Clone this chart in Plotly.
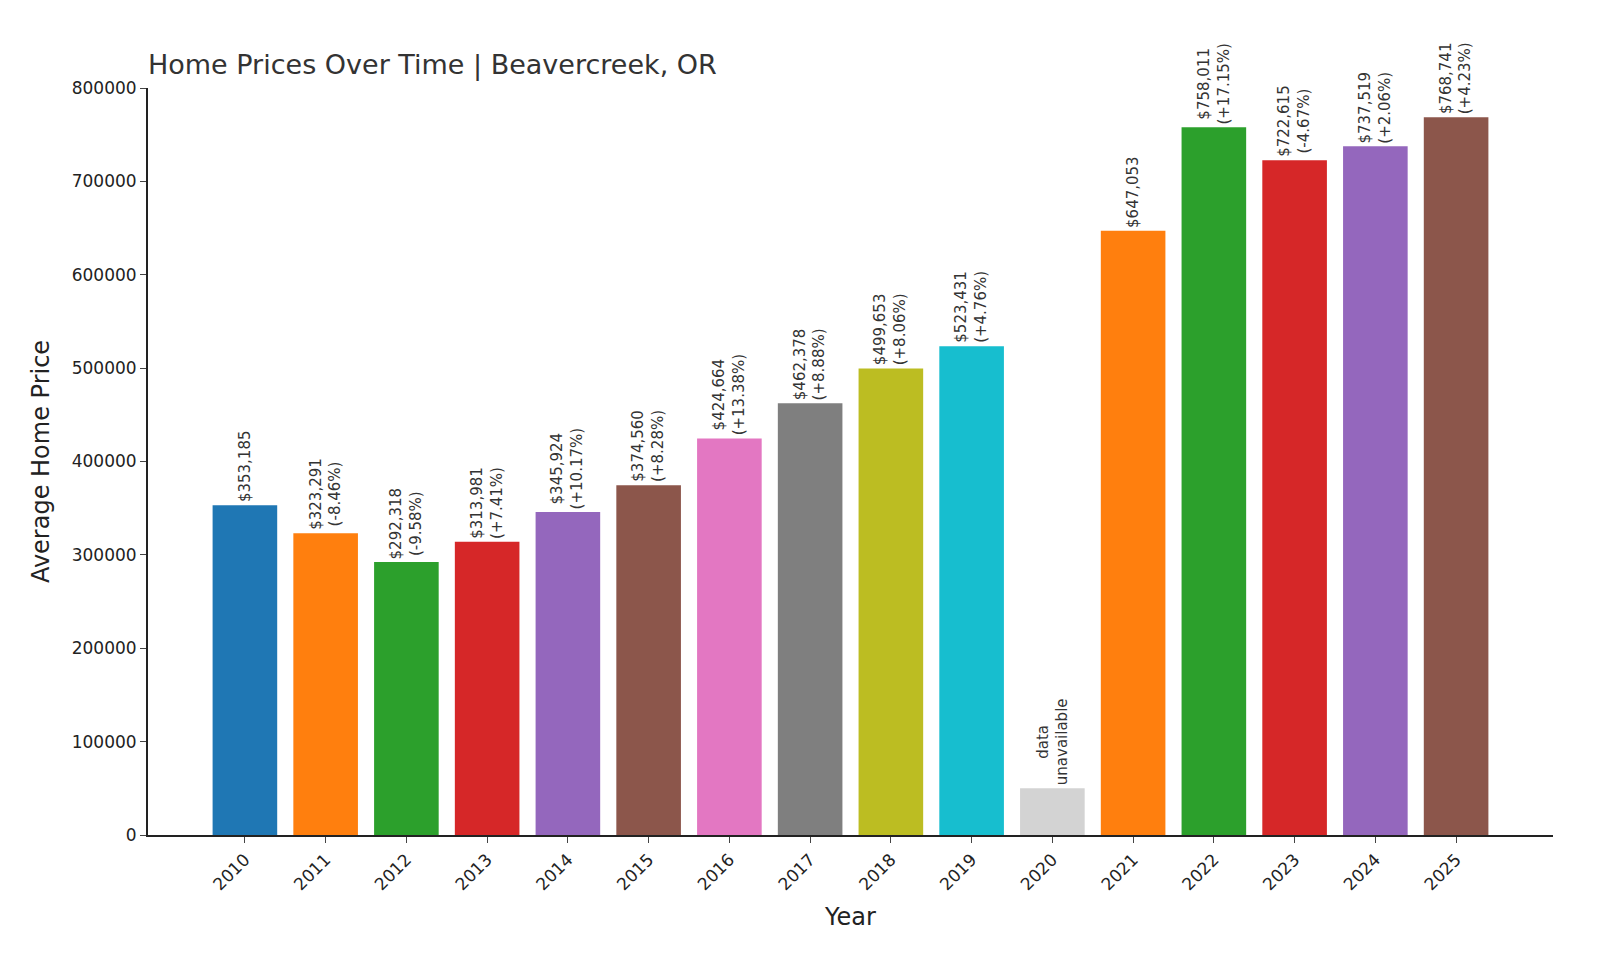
import plotly.graph_objects as go

years = [str(y) for y in range(2010, 2026)]
prices = [353185, 323291, 292318, 313981, 345924, 374560, 424664, 462378, 499653, 523431, None, 647053, 758011, 722615, 737519, 768741]
changes = [None, "-8.46%", "-9.58%", "+7.41%", "+10.17%", "+8.28%", "+13.38%", "+8.88%", "+8.06%", "+4.76%", None, None, "+17.15%", "-4.67%", "+2.06%", "+4.23%"]
colors = ["#1f77b4", "#ff7f0e", "#2ca02c", "#d62728", "#9467bd", "#8c564b", "#e377c2", "#7f7f7f", "#bcbd22", "#17becf", "#d3d3d3", "#ff7f0e", "#2ca02c", "#d62728", "#9467bd", "#8c564b"]
placeholder = 50000

xs = list(range(2010, 2026))
ys = [p if p is not None else placeholder for p in prices]

fig = go.Figure(go.Bar(x=xs, y=ys, marker_color=colors, width=0.8, marker_line_width=0))

for x, p, c in zip(xs, prices, changes):
    if p is None:
        txt = "data<br>unavailable"
        y = placeholder
    else:
        txt = f"${p:,}" + (f"<br>({c})" if c else "")
        y = p
    fig.add_annotation(x=x, y=y, text=txt, textangle=-90, showarrow=False,
                       yanchor="bottom", xanchor="center", yshift=1,
                       font=dict(size=15, color="#333"))

fig.update_layout(
    width=1600, height=960, plot_bgcolor="white", paper_bgcolor="white",
    margin=dict(l=140, r=55, t=80, b=133),
    font=dict(family="DejaVu Sans", color="#222"),
    title=dict(text="Home Prices Over Time | Beavercreek, OR", x=140/1600, xanchor="left",
               y=1-57/960, yanchor="middle", font=dict(size=27, color="#333")),
    showlegend=False,
)
fig.update_xaxes(range=[2008.8, 2026.2], tickvals=xs, ticktext=years, tickangle=-45,
                 showline=True, linecolor="#222", linewidth=2, ticks="outside", ticklen=6,
                 tickfont=dict(size=17), title=dict(text="Year", font=dict(size=24)), showgrid=False)
fig.update_yaxes(range=[0, 800000], dtick=100000, tickformat="d", showline=True, linecolor="#222",
                 linewidth=2, ticks="outside", ticklen=6, tickfont=dict(size=17), showgrid=False,
                 title=dict(text="Average Home Price", font=dict(size=24)), zeroline=False)
fig.write_html("out.html")
